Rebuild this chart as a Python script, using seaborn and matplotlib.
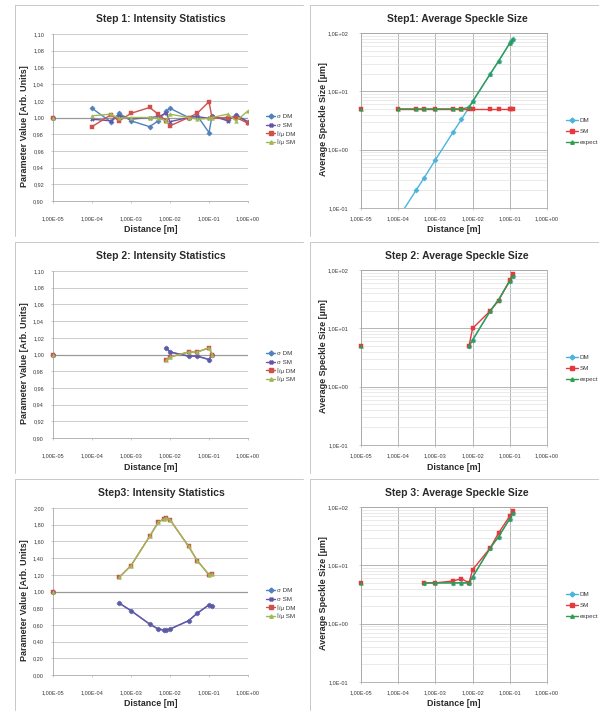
import numpy as np
import pandas as pd
import matplotlib
matplotlib.use("Agg")
import matplotlib.pyplot as plt
import seaborn as sns
from matplotlib.lines import Line2D
from matplotlib.patches import Rectangle
from matplotlib.ticker import FixedLocator, FuncFormatter, LogLocator, NullFormatter

# ---- intensity statistics (left column) ----
int1_x = [1e-4, 3e-4, 5e-4, 1e-3, 3e-3, 5e-3, 8e-3, 1e-2, 3e-2, 5e-2, 1e-1, 1.2e-1, 3e-1, 5e-1, 1e0]
int1_sig_dm = [1.011, 0.995, 1.005, 0.996, 0.989, 0.996, 1.008, 1.011, 1.000, 1.002, 0.982, 1.002, 0.997, 1.003, 0.995]
int1_sig_sm = [0.998, 0.996, 1.002, 0.998, 1.000, 1.001, 1.005, 0.995, 1.000, 1.001, 0.999, 1.002, 0.996, 1.003, 0.994]
int1_i_dm = [0.989, 1.003, 0.996, 1.005, 1.012, 1.004, 0.996, 0.990, 1.000, 1.005, 1.019, 0.999, 1.000, 1.000, 0.993]
int1_i_sm = [1.002, 1.004, 0.999, 1.000, 1.000, 0.999, 0.996, 1.004, 1.000, 0.998, 0.999, 1.000, 1.004, 0.996, 1.008]

int2_x = [8e-3, 1e-2, 3e-2, 5e-2, 1e-1, 1.2e-1]
int2_sig_dm = [1.008, 1.003, 0.998, 0.998, 0.994, 1.000]
int2_sig_sm = [1.008, 1.003, 0.998, 0.998, 0.994, 1.000]
int2_i_dm = [0.993, 0.997, 1.003, 1.003, 1.008, 1.000]
int2_i_sm = [0.993, 0.997, 1.003, 1.003, 1.008, 1.000]

int3_x = [5e-4, 1e-3, 3e-3, 5e-3, 7e-3, 8e-3, 1e-2, 3e-2, 5e-2, 1e-1, 1.2e-1]
int3_sig_dm = [0.86, 0.77, 0.61, 0.55, 0.54, 0.54, 0.55, 0.65, 0.74, 0.84, 0.83]
int3_sig_sm = [0.86, 0.77, 0.61, 0.55, 0.54, 0.54, 0.55, 0.65, 0.74, 0.84, 0.83]
int3_i_dm = [1.17, 1.31, 1.66, 1.83, 1.87, 1.88, 1.86, 1.54, 1.37, 1.20, 1.21]
int3_i_sm = [1.17, 1.31, 1.66, 1.83, 1.87, 1.88, 1.86, 1.54, 1.37, 1.20, 1.21]

# value at z = 0 (drawn on the left edge)
int_zero = 1.00

# ---- average speckle size (right column) ----
sp1_x = [1e-4, 3e-4, 5e-4, 1e-3, 3e-3, 5e-3, 8e-3, 1e-2, 3e-2, 5e-2, 1e-1, 1.1e-1, 1.2e-1]
sp1_dm = [0.067, 0.2, 0.33, 0.67, 2.0, 3.3, 5.3, 6.7, 20, 33, 67, 73, 80]
sp1_sm = [5.0, 5.0, 5.0, 5.0, 5.0, 5.0, 5.0, 5.0, 5.0, 5.0, 5.0, 5.0, 5.0]
sp1_exp = [5.0, 5.0, 5.0, 5.0, 5.0, 5.0, 5.3, 6.7, 20, 33, 67, 73, 80]

sp2_x = [8e-3, 1e-2, 3e-2, 5e-2, 1e-1, 1.2e-1]
sp2_dm = [5.0, 6.3, 20, 31, 65, 80]
sp2_sm = [5.0, 10.0, 20, 30, 67, 87]
sp2_exp = [5.0, 6.3, 20, 31, 65, 80]

sp3_x = [5e-4, 1e-3, 3e-3, 5e-3, 8e-3, 1e-2, 3e-2, 5e-2, 1e-1, 1.2e-1]
sp3_dm = [5.0, 5.0, 5.0, 5.0, 5.0, 6.3, 20, 31, 63, 80]
sp3_sm = [5.0, 5.0, 5.4, 5.9, 5.0, 8.4, 20, 36, 70, 85]
sp3_exp = [5.0, 5.0, 5.0, 5.0, 5.0, 6.3, 20, 31, 63, 80]

sp_zero = 5.0

int_titles = ["Step 1: Intensity Statistics", "Step 2: Intensity Statistics", "Step3: Intensity Statistics"]
sp_titles = ["Step1: Average Speckle Size", "Step 2: Average Speckle Size", "Step 3: Average Speckle Size"]
int_labels = ["σ DM", "σ SM", "Ī/μ DM", "Ī/μ SM"]
sp_labels = ["DM", "SM", "expect"]
int_ylims = [(0.90, 1.10), (0.90, 1.10), (0.0, 2.0)]
int_ysteps = [0.02, 0.02, 0.2]
x_decades = [1e-5, 1e-4, 1e-3, 1e-2, 1e-1, 1e0]

int_colors = ["#4f81bd", "#6655a5", "#cf4f4c", "#9fba55"]
int_markers = ["D", "X", "s", "^"]
sp_colors = ["#4bb4dc", "#e5393e", "#2f9d4d"]
sp_markers = ["D", "s", "^"]

sns.set_style("white")
plt.rcParams["font.family"] = ["Liberation Sans", "DejaVu Sans"]

W, H = 599, 711
fig = plt.figure(figsize=(W / 100, H / 100), dpi=100)
fig.patch.set_facecolor("white")


def px_axes(x0, y0, x1, y1, z=0):
    ax = fig.add_axes([x0 / W, 1 - y1 / H, (x1 - x0) / W, (y1 - y0) / H])
    ax.set_zorder(z)
    return ax


def sci2(v, pos=None):
    return f"{v:.2E}".replace(".", ",")


def sci1(v, pos=None):
    return f"{v:.1E}".replace(".", ",")


def dec2(v, pos=None):
    return f"{v:.2f}".replace(".", ",")


int_data = [
    (int1_x, [int1_sig_dm, int1_sig_sm, int1_i_dm, int1_i_sm]),
    (int2_x, [int2_sig_dm, int2_sig_sm, int2_i_dm, int2_i_sm]),
    (int3_x, [int3_sig_dm, int3_sig_sm, int3_i_dm, int3_i_sm]),
]
sp_data = [
    (sp1_x, [sp1_dm, sp1_sm, sp1_exp]),
    (sp2_x, [sp2_dm, sp2_sm, sp2_exp]),
    (sp3_x, [sp3_dm, sp3_sm, sp3_exp]),
]

tick_fs = 4.0
leg_fs = 4.5
grid_c = "#c4c4c4"
txt_c = "#3a3a3a"

for r in range(3):
    oy = 237 * r

    # ---------- left: intensity statistics ----------
    ax = px_axes(53, 34 + oy, 248, 201 + oy, z=0)
    ax.set_xscale("log")
    xs, series = int_data[r]
    for ys, col, mk, lab in zip(series, int_colors, int_markers, int_labels):
        df = pd.DataFrame({"x": xs, "y": ys})
        sns.lineplot(data=df, x="x", y="y", ax=ax, color=col, marker=mk, markersize=2.7,
                     markeredgewidth=0.3, markeredgecolor=col, linewidth=1.0,
                     estimator=None, sort=False)
        ax.plot([x_decades[0]], [int_zero], marker=mk, color=col, markersize=2.7,
                markeredgewidth=0.3, linestyle="none", clip_on=False, zorder=5)
    lo, hi = int_ylims[r]
    ax.set_xlim(1e-5, 1e0)
    ax.set_ylim(lo, hi)
    yt = np.round(np.arange(lo, hi + int_ysteps[r] / 2, int_ysteps[r]), 2)
    ax.yaxis.set_major_locator(FixedLocator(yt))
    ax.yaxis.set_major_formatter(FuncFormatter(dec2))
    ax.xaxis.set_major_locator(FixedLocator(x_decades))
    ax.xaxis.set_minor_locator(FixedLocator([]))
    ax.xaxis.set_major_formatter(FuncFormatter(sci2))
    ax.grid(axis="y", color=grid_c, linewidth=0.6)
    ax.grid(axis="x", visible=False)
    ax.axhline(1.0, color="#9a9a9a", linewidth=0.9, zorder=1)
    for s in ["top", "right"]:
        ax.spines[s].set_visible(False)
    for s in ["left", "bottom"]:
        ax.spines[s].set_color("#a8a8a8")
        ax.spines[s].set_linewidth(0.6)
    ax.tick_params(axis="y", labelsize=tick_fs, length=1.5, width=0.4, color="#a8a8a8",
                   pad=5, labelcolor=txt_c, left=True)
    ax.tick_params(axis="x", labelsize=tick_fs, length=1.5, width=0.4, color="#a8a8a8",
                   pad=9.5, labelcolor=txt_c, bottom=True)
    ax.set_xlabel("")
    ax.set_ylabel("")
    handles = [Line2D([], [], color=c, marker=m, markersize=2.5, linewidth=1.0)
               for c, m in zip(int_colors, int_markers)]
    ax.legend(handles, int_labels, loc="upper left", bbox_to_anchor=(266 / W, 1 - (114 + oy) / H),
              bbox_transform=fig.transFigure, frameon=False, fontsize=leg_fs, handlelength=1.5,
              handletextpad=0.3, labelspacing=0.5, borderpad=0, borderaxespad=0,
              labelcolor=txt_c)

    fig.text(161 / W, 1 - (19 + oy) / H, int_titles[r], ha="center", va="center",
             fontsize=7.5, fontweight="bold", color="#2a2a2a")
    fig.text(150.5 / W, 1 - (230 + oy) / H, "Distance [m]", ha="center", va="center",
             fontsize=6.4, fontweight="bold", color="#2a2a2a")
    fig.text(25 / W, 1 - (126 + oy) / H, "Parameter Value [Arb. Units]", ha="center",
             va="center", rotation=90, fontsize=6.5, fontweight="bold", color="#2a2a2a")

    # ---------- right: average speckle size ----------
    ax2 = px_axes(361, 33 + oy, 547, 208 + oy, z=2)
    ax2.set_xscale("log")
    ax2.set_yscale("log")
    xs, series = sp_data[r]
    for ys, col, mk, lab in zip(series, sp_colors, sp_markers, sp_labels):
        df = pd.DataFrame({"x": xs, "y": ys})
        sns.lineplot(data=df, x="x", y="y", ax=ax2, color=col, marker=mk, markersize=2.7,
                     markeredgewidth=0.3, markeredgecolor=col, linewidth=1.0,
                     estimator=None, sort=False)
    for col, mk in zip(sp_colors[1:], sp_markers[1:]):
        ax2.plot([x_decades[0]], [sp_zero], marker=mk, color=col, markersize=2.7,
                 markeredgewidth=0.3, linestyle="none", clip_on=False, zorder=5)
    ax2.set_xlim(1e-5, 1e0)
    ax2.set_ylim(0.1, 100)
    ax2.xaxis.set_major_locator(FixedLocator(x_decades))
    ax2.xaxis.set_minor_locator(FixedLocator([]))
    ax2.xaxis.set_major_formatter(FuncFormatter(sci2))
    ax2.yaxis.set_major_locator(FixedLocator([0.1, 1, 10, 100]))
    ax2.yaxis.set_minor_locator(LogLocator(base=10, subs=np.arange(2, 10)))
    ax2.yaxis.set_minor_formatter(NullFormatter())
    ax2.yaxis.set_major_formatter(FuncFormatter(sci1))
    ax2.grid(which="major", color="#a9a9a9", linewidth=0.6)
    ax2.grid(which="minor", axis="y", color="#dedede", linewidth=0.45)
    for s in ax2.spines.values():
        s.set_color("#a8a8a8")
        s.set_linewidth(0.6)
    ax2.tick_params(axis="y", which="major", labelsize=tick_fs, length=1.5, width=0.4,
                    color="#a8a8a8", pad=7.5, labelcolor=txt_c, left=True)
    ax2.tick_params(axis="y", which="minor", length=0)
    ax2.tick_params(axis="x", labelsize=tick_fs, length=1.5, width=0.4, color="#a8a8a8",
                    pad=4.5, labelcolor=txt_c, bottom=True)
    ax2.set_xlabel("")
    ax2.set_ylabel("")
    handles = [Line2D([], [], color=c, marker=m, markersize=2.5, linewidth=1.0)
               for c, m in zip(sp_colors, sp_markers)]
    ax2.legend(handles, sp_labels, loc="upper left", bbox_to_anchor=(566 / W, 1 - (118 + oy) / H),
               bbox_transform=fig.transFigure, frameon=False, fontsize=leg_fs, handlelength=1.9,
               handletextpad=0.3, labelspacing=0.85, borderpad=0, borderaxespad=0,
               labelcolor=txt_c)

    fig.text(457 / W, 1 - (19 + oy) / H, sp_titles[r], ha="center", va="center",
             fontsize=7.5, fontweight="bold", color="#2a2a2a")
    fig.text(454 / W, 1 - (230 + oy) / H, "Distance [m]", ha="center", va="center",
             fontsize=6.4, fontweight="bold", color="#2a2a2a")
    fig.text(324 / W, 1 - (119 + oy) / H, "Average Speckle Size [µm]", ha="center",
             va="center", rotation=90, fontsize=6.5, fontweight="bold", color="#2a2a2a")

    # chart frames
    fig.add_artist(Line2D([15 / W, 303 / W], [1 - (5 + oy) / H] * 2, color="#c8c8c8", lw=0.7, zorder=3))
    fig.add_artist(Line2D([310 / W, 1.0], [1 - (5 + oy) / H] * 2, color="#c8c8c8", lw=0.7, zorder=3))
    fig.add_artist(Line2D([15 / W] * 2, [1 - (5 + oy) / H, 1 - (236 + oy) / H], color="#c8c8c8", lw=0.7, zorder=3))
    fig.add_artist(Line2D([310 / W] * 2, [1 - (5 + oy) / H, 1 - (236 + oy) / H], color="#c8c8c8", lw=0.7, zorder=3))

# white strip hiding the part of the left legends that runs past the left chart edge
fig.add_artist(Rectangle((301 / W, 0), 1 - 301 / W, 1, transform=fig.transFigure,
                         facecolor="white", edgecolor="none", zorder=1))

fig.savefig("out.png", dpi=100, facecolor="white")
